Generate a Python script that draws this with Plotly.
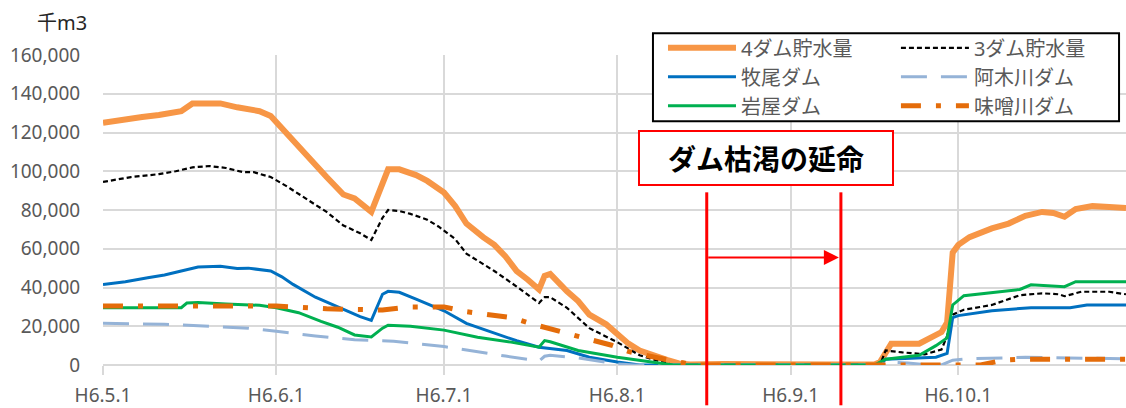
import plotly.graph_objects as go

YEAR = "1994"  # 平成6年

# ---- 貯水量データ（千m3） ----
dates_4dam = ["05-01", "05-04", "05-08", "05-11", "05-14", "05-15", "05-17", "05-22", "05-25", "05-27",
              "05-29", "05-31", "06-02", "06-05", "06-07", "06-10", "06-13", "06-15", "06-18", "06-20",
              "06-21", "06-23", "06-26", "06-28", "07-01", "07-03", "07-05", "07-08", "07-10", "07-12",
              "07-14", "07-16", "07-18", "07-19", "07-20", "07-23", "07-25", "07-27", "07-30", "08-01",
              "08-03", "08-05", "08-08", "08-10", "08-12", "08-14", "08-20", "08-25", "08-30", "09-04",
              "09-10", "09-16", "09-17", "09-19", "09-24", "09-26", "09-28", "09-29", "09-30", "10-01",
              "10-03", "10-07", "10-10", "10-13", "10-16", "10-18", "10-20", "10-22", "10-25", "10-28",
              "10-31"]
vol_4dam = [125000, 126500, 128000, 129000, 130000, 131000, 135000, 135000, 133000, 132000,
            131000, 128500, 122000, 113000, 106000, 97000, 88000, 86000, 79000, 95000,
            101000, 101000, 98000, 95000, 89000, 82000, 73000, 66000, 62000, 56000,
            48500, 44000, 39000, 46000, 47000, 38000, 33000, 26000, 21000, 16000,
            11000, 7500, 4000, 2500, 800, 300, 500, 300, 400, 300,
            300, 300, 1500, 11000, 11000, 14000, 17000, 22000, 58000, 62000,
            66000, 70500, 73000, 77000, 79000, 78500, 76500, 80500, 82000, 81500,
            81000]

dates_3dam = ["05-01", "05-06", "05-11", "05-14", "05-17", "05-20", "05-23", "05-26", "05-28", "05-31",
              "06-03", "06-07", "06-10", "06-13", "06-16", "06-18", "06-20", "06-21", "06-23", "06-25",
              "06-28", "06-30", "07-03", "07-05", "07-08", "07-10", "07-14", "07-18", "07-19", "07-20",
              "07-23", "07-27", "08-01", "08-05", "08-09", "08-11", "09-17", "09-18", "09-21", "09-25",
              "09-28", "09-29", "09-30", "10-02", "10-07", "10-10", "10-12", "10-16", "10-19", "10-20",
              "10-23", "10-28", "10-31"]
vol_3dam = [94500, 97000, 98500, 100000, 102000, 102700, 101700, 99600, 99500, 97000,
            92000, 84500, 79000, 72000, 68000, 64500, 76000, 80000, 79500, 78000,
            75000, 71500, 65000, 57500, 52000, 48500, 40500, 32000, 35000, 35000,
            29500, 19000, 11800, 5000, 1500, 0, 0, 7500, 6500, 5500,
            8000, 15000, 26000, 28500, 31000, 34000, 36000, 37000, 36500, 35500,
            37800, 37800, 36500]

dates_makio = ["05-01", "05-05", "05-09", "05-12", "05-15", "05-18", "05-22", "05-25", "05-27", "05-31",
               "06-02", "06-04", "06-08", "06-13", "06-16", "06-18", "06-19", "06-20", "06-21", "06-23",
               "06-26", "07-01", "07-05", "07-10", "07-14", "07-18", "07-23", "07-27", "08-01", "08-05",
               "09-17", "09-18", "09-27", "09-29", "09-30", "10-01", "10-07", "10-14", "10-21", "10-24",
               "10-31"]
vol_makio = [41600, 43000, 45000, 46500, 48500, 50600, 51000, 49800, 50000, 48500,
             45500, 41600, 35000, 28500, 25000, 23000, 30000, 36500, 38000, 37500,
             34000, 28000, 21500, 16500, 12500, 9200, 7500, 4000, 1500, 0,
             0, 3000, 4000, 6000, 24500, 25500, 28000, 29600, 29600, 31000,
             31000]

dates_agigawa = ["05-01", "05-12", "05-20", "05-27", "06-01", "06-08", "06-15", "06-22", "07-01", "07-07",
                 "07-12", "07-18", "07-19", "07-20", "07-25", "08-01", "08-04", "09-17", "09-18", "09-22",
                 "09-26", "09-28", "09-30", "10-03", "10-13", "10-31"]
vol_agigawa = [21500, 21000, 20000, 19000, 17400, 15000, 13000, 12300, 9500, 7000,
               4600, 2000, 4500, 5000, 3700, 500, 0, 0, 1500, 1000,
               0, 0, 2500, 3200, 4000, 3200]

dates_iwaya = ["05-01", "05-15", "05-16", "05-18", "05-23", "05-29", "06-01", "06-05", "06-09", "06-12",
               "06-15", "06-18", "06-20", "06-21", "06-25", "07-01", "07-07", "07-13", "07-18", "07-19",
               "07-20", "07-25", "08-01", "08-09", "08-11", "09-16", "09-18", "09-24", "09-27", "09-29",
               "09-30", "10-02", "10-07", "10-12", "10-14", "10-20", "10-22", "10-31"]
vol_iwaya = [29600, 29600, 32000, 32300, 31500, 30800, 29500, 27000, 22500, 19500,
             15500, 14500, 19000, 20500, 20000, 18000, 14300, 11800, 9200, 12600,
             12000, 7500, 4000, 700, 0, 0, 3000, 5000, 10000, 14000,
             31000, 35800, 37300, 39000, 41400, 40400, 43000, 43000]

dates_misogawa = ["05-01", "06-01", "06-10", "06-20", "06-25", "07-01", "07-05", "07-10", "07-13", "07-17",
                  "07-22", "07-26", "07-31", "08-03", "08-05", "08-09", "08-13", "08-15", "10-05", "10-09",
                  "10-12", "10-31"]
vol_misogawa = [30400, 30400, 29000, 28400, 30000, 30000, 27500, 25500, 24500, 21000,
                17400, 14000, 10200, 7000, 5600, 3000, 1000, 0, 0, 2500,
                3000, 3000]

# ---- 軸目盛 ----
month_ticks = ["05-01", "06-01", "07-01", "08-01", "09-01", "10-01"]
month_labels = ["H6.5.1", "H6.6.1", "H6.7.1", "H6.8.1", "H6.9.1", "H6.10.1"]
y_ticks = [0, 20000, 40000, 60000, 80000, 100000, 120000, 140000, 160000]

# 延命期間（節水による枯渇回避期間）
extend_start = "08-17"
extend_end = "09-10"


def d(md):
    return f"{YEAR}-{md}"


def ds(lst):
    return [d(x) for x in lst]


GRID = "#D9D9D9"
TXT = "#595959"
FONT = "Noto Sans, Noto Sans CJK JP, sans-serif"

# (名称, 日付, 貯水量, 線種, 凡例の列)
series = [
    ("4ダム貯水量", dates_4dam, vol_4dam, dict(color="#F79646", width=6), "legend"),
    ("3ダム貯水量", dates_3dam, vol_3dam, dict(color="#000000", width=2.2, dash="5px,3px"), "legend2"),
    ("牧尾ダム", dates_makio, vol_makio, dict(color="#0070C0", width=3), "legend"),
    ("阿木川ダム", dates_agigawa, vol_agigawa, dict(color="#95B3D7", width=3, dash="26px,14px"), "legend2"),
    ("岩屋ダム", dates_iwaya, vol_iwaya, dict(color="#00B050", width=3), "legend"),
    ("味噌川ダム", dates_misogawa, vol_misogawa, dict(color="#E46C0A", width=5, dash="20px,15px,5px,15px"), "legend2"),
]

fig = go.Figure()
for name, dts, vals, line, lg in series:
    fig.add_trace(go.Scatter(x=ds(dts), y=vals, name=name, mode="lines", line=line, legend=lg))

legend_common = dict(
    orientation="v", xanchor="left", yanchor="top", y=1.086,
    bgcolor="rgba(0,0,0,0)", borderwidth=0,
    font=dict(family=FONT, size=20, color=TXT),
    itemwidth=68, traceorder="normal",
)

fig.update_layout(
    width=1126, height=408,
    margin=dict(l=103, r=0, t=55, b=39),
    paper_bgcolor="white", plot_bgcolor="white",
    font=dict(family=FONT, size=19, color=TXT),
    showlegend=True,
    legend=dict(x=0.5474, **legend_common),
    legend2=dict(x=0.7751, **legend_common),
)

fig.update_xaxes(
    type="date", range=[d("05-01"), d("10-31")],
    tickmode="array", tickvals=ds(month_ticks), ticktext=month_labels,
    showgrid=True, gridcolor=GRID, gridwidth=1.5,
    ticks="outside", ticklen=9, tickcolor=GRID, tickwidth=1.5,
    ticklabelstandoff=4,
    showline=False, zeroline=False,
    tickfont=dict(family=FONT, size=19, color=TXT),
)
fig.update_yaxes(
    range=[0, 160000], tickmode="array", tickvals=y_ticks, tickformat=",",
    showgrid=True, gridcolor=GRID, gridwidth=1.5,
    zeroline=True, zerolinecolor=GRID, zerolinewidth=1.5,
    ticks="outside", ticklen=18, tickcolor="rgba(0,0,0,0)",
    showline=False,
    tickfont=dict(family=FONT, size=19, color=TXT),
)

# 凡例の枠
fig.add_shape(type="rect", xref="paper", yref="paper", x0=0.5376, x1=0.9932, y0=0.7866, y1=1.070,
              fillcolor="white", line=dict(color="black", width=2), layer="above")

# 単位
fig.add_annotation(text="千m3", xref="paper", yref="paper", x=-0.04, y=1.105,
                   xanchor="center", yanchor="middle",
                   showarrow=False, font=dict(family=FONT, size=20, color="#262626"))

# 延命期間の縦線
for md in (extend_start, extend_end):
    fig.add_shape(type="line", xref="x", yref="paper", x0=d(md), x1=d(md), y0=-0.13, y1=0.557,
                  line=dict(color="#FF0000", width=3))

# 延命期間の矢印
fig.add_annotation(x=d(extend_end), y=0.347, xref="x", yref="paper",
                   ax=d(extend_start), ay=0, axref="x", ayref="pixel",
                   text="", showarrow=True, arrowhead=2, arrowsize=1.5, arrowwidth=2,
                   arrowcolor="#FF0000", standoff=2)

# 見出しボックス
fig.add_annotation(text="ダム枯渇の延命", xref="paper", yref="paper", x=0.648, y=0.669,
                   xanchor="center", yanchor="middle",
                   showarrow=False, width=252, height=52,
                   bgcolor="white", bordercolor="#FF0000", borderwidth=2, borderpad=0,
                   font=dict(family="Noto Sans CJK JP, sans-serif", size=28, color="black", weight="bold"))

fig.write_html("out.html")
